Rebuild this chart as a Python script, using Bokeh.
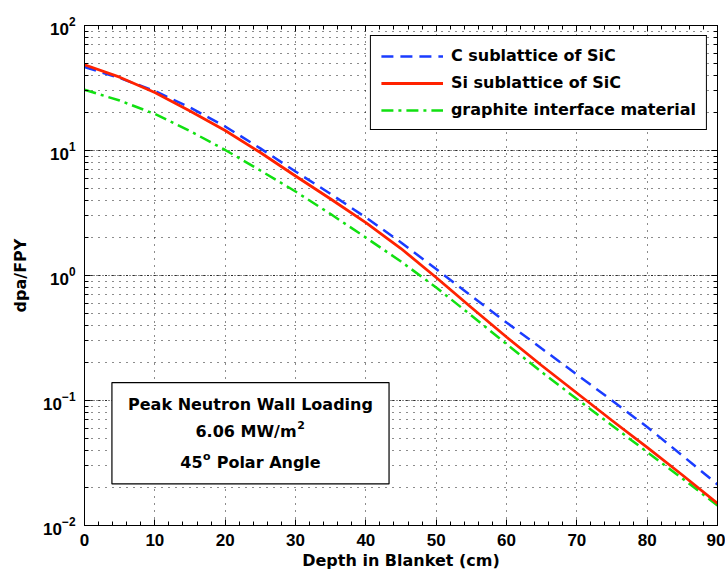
from bokeh.plotting import figure
from bokeh.models import (BoxAnnotation, Label, Legend, LegendItem, LinearAxis,
                          LogAxis, SingleIntervalTicker, LogTicker, Range1d,
                          CustomJSTickFormatter)
from bokeh.embed import file_html
from bokeh.resources import INLINE

# ---- data ----
depth = [0, 5, 10, 15, 20, 25, 30, 35, 40, 45, 50, 55, 60, 65, 70, 75, 80, 85, 90]
c_sub = [46.5, 38.0, 29.9, 22.1, 15.56, 10.4, 6.79, 4.49, 2.91, 1.837, 1.127, 0.686,
         0.421, 0.2606, 0.1614, 0.100, 0.0614, 0.0363, 0.0213]
si_sub = [48.5, 38.6, 29.1, 20.7, 14.45, 9.64, 6.25, 4.09, 2.65, 1.644, 0.964, 0.555,
          0.322, 0.1905, 0.1148, 0.0692, 0.0421, 0.02535, 0.0150]
graphite = [30.6, 25.1, 19.6, 14.3, 10.1, 6.92, 4.70, 3.10, 2.01, 1.294, 0.802, 0.479,
            0.283, 0.169, 0.1028, 0.0631, 0.0387, 0.0238, 0.01445]
series_names = ["C sublattice of SiC", "Si sublattice of SiC", "graphite interface material"]
note_title = "Peak Neutron Wall Loading"
# (base text, superscript, trailing text) for the two lines with superscripts
note_parts = [("6.06 MW/m", "2", ""), ("45", "o", "Polar Angle")]

TXT_FONT = "DejaVu Sans"
TICK_FONT = "Liberation Sans"

p = figure(width=725, height=575, x_range=Range1d(0, 90), y_range=Range1d(0.01, 100),
           y_axis_type="log", output_backend="svg", toolbar_location=None,
           min_border_left=84, min_border_right=8, min_border_top=25, min_border_bottom=50,
           background_fill_color="white", border_fill_color="white")

p.outline_line_color = "black"
p.outline_line_width = 1
p.outline_line_alpha = 1

xt = SingleIntervalTicker(interval=10, num_minor_ticks=5)
yt = LogTicker(num_minor_ticks=10)
p.xaxis.ticker = xt
p.xgrid.ticker = xt
p.yaxis.ticker = yt
p.ygrid.ticker = yt

for ax in (p.xaxis[0], p.yaxis[0]):
    ax.major_tick_in = 6
    ax.major_tick_out = 0
    ax.minor_tick_in = 4
    ax.minor_tick_out = 0
    ax.axis_line_color = "black"
    ax.major_tick_line_color = "black"
    ax.minor_tick_line_color = "black"
    ax.major_label_text_font = TICK_FONT
    ax.major_label_text_font_style = "bold"
    ax.major_label_text_font_size = "17px"
    ax.major_label_text_color = "black"
    ax.axis_label_text_font = TXT_FONT
    ax.axis_label_text_font_style = "bold"
    ax.axis_label_text_font_size = "16px"
    ax.axis_label_text_color = "black"

p.xaxis.axis_label = "Depth in Blanket (cm)"
p.xaxis.major_label_standoff = 8
p.xaxis.axis_label_standoff = 2
p.yaxis.axis_label = "dpa/FPY"
p.yaxis.major_label_standoff = 9
p.yaxis.axis_label_standoff = 10

# mirrored tick axes (box on)
top_ax = LinearAxis(ticker=xt, formatter=CustomJSTickFormatter(code="return ''"))
right_ax = LogAxis(ticker=yt, formatter=CustomJSTickFormatter(code="return ''"))
for ax in (top_ax, right_ax):
    ax.major_tick_in = 6
    ax.major_tick_out = 0
    ax.minor_tick_in = 4
    ax.minor_tick_out = 0
    ax.major_label_standoff = 0
    ax.axis_line_color = "black"
p.add_layout(top_ax, "above")
p.add_layout(right_ax, "right")

# grids
p.xgrid.grid_line_color = "black"
p.xgrid.grid_line_dash = "1 6"
p.xgrid.grid_line_width = 1
p.xgrid.grid_line_alpha = 0.9
p.ygrid.grid_line_color = "black"
p.ygrid.grid_line_dash = "1 2"
p.ygrid.grid_line_width = 1
p.ygrid.grid_line_alpha = 0.9
p.ygrid.minor_grid_line_color = "black"
p.ygrid.minor_grid_line_dash = "1 6"
p.ygrid.minor_grid_line_width = 1
p.ygrid.minor_grid_line_alpha = 0.9

# curves
rg = p.line(depth, graphite, line_color="#11e011", line_width=2.5, line_dash="12 5 3 5")
rb = p.line(depth, c_sub, line_color="#1a3cff", line_width=2.5, line_dash="12 7")
rr = p.line(depth, si_sub, line_color="#ff2200", line_width=2.8)

legend = Legend(items=[LegendItem(label=series_names[0], renderers=[rb]),
                       LegendItem(label=series_names[1], renderers=[rr]),
                       LegendItem(label=series_names[2], renderers=[rg])],
                location="top_right")
legend.border_line_color = "black"
legend.border_line_width = 1
legend.border_line_alpha = 1
legend.background_fill_color = "white"
legend.background_fill_alpha = 1
legend.label_text_font = TXT_FONT
legend.label_text_font_style = "bold"
legend.label_text_font_size = "16px"
legend.label_text_color = "black"
legend.glyph_width = 62
legend.glyph_height = 18
legend.label_height = 18
legend.label_standoff = 8
legend.spacing = 8
legend.padding = 10
legend.margin = 10
p.add_layout(legend)

# annotation box
box = BoxAnnotation(left=3.9, right=43.3, top=0.139, bottom=0.0215,
                    fill_color="white", fill_alpha=1, line_color="black",
                    line_width=1.2, line_alpha=1)
p.add_layout(box)

XC = 23.6
common = dict(text_font=TXT_FONT, text_font_style="bold", text_color="black",
              text_baseline="middle")
p.add_layout(Label(x=XC, y=0.093, text=note_title, text_align="center",
                   text_font_size="16px", **common))

# DejaVu Sans Bold advance widths (em) for layout of the superscript lines
W = {"0": .696, "1": .696, "2": .696, "4": .696, "5": .696, "6": .696, ".": .380,
     " ": .348, "M": .995, "W": 1.103, "/": .365, "m": 1.058, "o": .687,
     "P": .733, "l": .343, "a": .675, "r": .493, "A": .774, "n": .712,
     "g": .716, "e": .678}
def width(s, size):
    return sum(W.get(c, .65) for c in s) * size

FS, SS = 16, 11
for (base, sup, tail), yv in zip(note_parts, [0.0565, 0.0322]):
    gap = width(" ", FS) if tail else 0
    wb, ws, wt = width(base, FS), width(sup, SS) + 1, width(tail, FS)
    start = -(wb + ws + gap + wt) / 2
    p.add_layout(Label(x=XC, y=yv, x_offset=start, text=base, text_align="left",
                       text_font_size=f"{FS}px", **common))
    p.add_layout(Label(x=XC, y=yv, x_offset=start + wb + 0.5, y_offset=6, text=sup,
                       text_align="left", text_font_size=f"{SS}px", **common))
    if tail:
        p.add_layout(Label(x=XC, y=yv, x_offset=start + wb + ws + gap, text=tail,
                           text_align="left", text_font_size=f"{FS}px", **common))

open("out.html", "w").write(file_html(p, INLINE))
